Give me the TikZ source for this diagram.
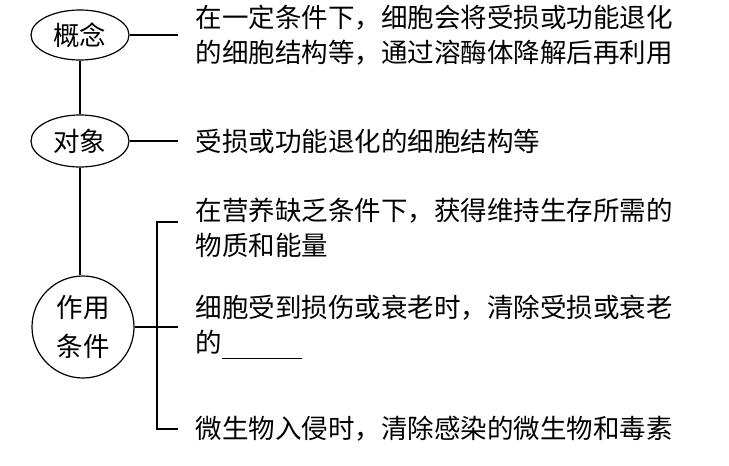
\documentclass[tikz,border=0pt]{standalone}
\usepackage{fontspec}
\setmainfont{Noto Sans CJK SC}
\usetikzlibrary{shapes.geometric}

\begin{document}
\begin{tikzpicture}[x=0.5pt,y=-0.5pt,line width=0.6pt,
  every node/.style={font=\fontsize{13.25pt}{17.5pt}\selectfont},
  jd/.style={draw,ellipse,minimum width=49pt,minimum height=25pt,inner sep=0pt},
  wz/.style={anchor=west,align=left,inner ysep=0pt,inner xsep=8.5pt}]
\useasboundingbox (0,0) rectangle (729,466);
% left column
\node[jd] (gn) at (80,35) {概念};
\node[jd,minimum height=26pt] (dx) at (80,141) {对象};
\node[draw,circle,minimum size=51pt,inner sep=0pt,align=center,
  font=\fontsize{13.25pt}{19.5pt}\selectfont] (zy) at (83,327) {作用\\条件};
\draw (gn) -- (dx) -- (zy.north-|dx);
% right column
\node[wz] (t1) at (178,35) {在一定条件下，细胞会将受损或功能退化\\的细胞结构等，通过溶酶体降解后再利用};
\node[wz] (t2) at (178,141) {受损或功能退化的细胞结构等};
\node[wz] (t3) at (178,228) {在营养缺乏条件下，获得维持生存所需的\\物质和能量};
\node[wz] (t4) at (178,327) {细胞受到损伤或衰老时，清除受损或衰老\\的\rule[-3pt]{40pt}{0.6pt}};
\node[wz] (t5) at (178,429) {微生物入侵时，清除感染的微生物和毒素};
\draw (gn) -- (t1.west);
\draw (dx) -- (t2.west);
% bracket
\coordinate (k1) at (157,222);
\coordinate (k3) at (157,429);
\draw (t3.west|-k1) -- (k1) -- (k3) -- (t5.west);
\draw (zy) -- (t4.west);
\end{tikzpicture}
\end{document}
